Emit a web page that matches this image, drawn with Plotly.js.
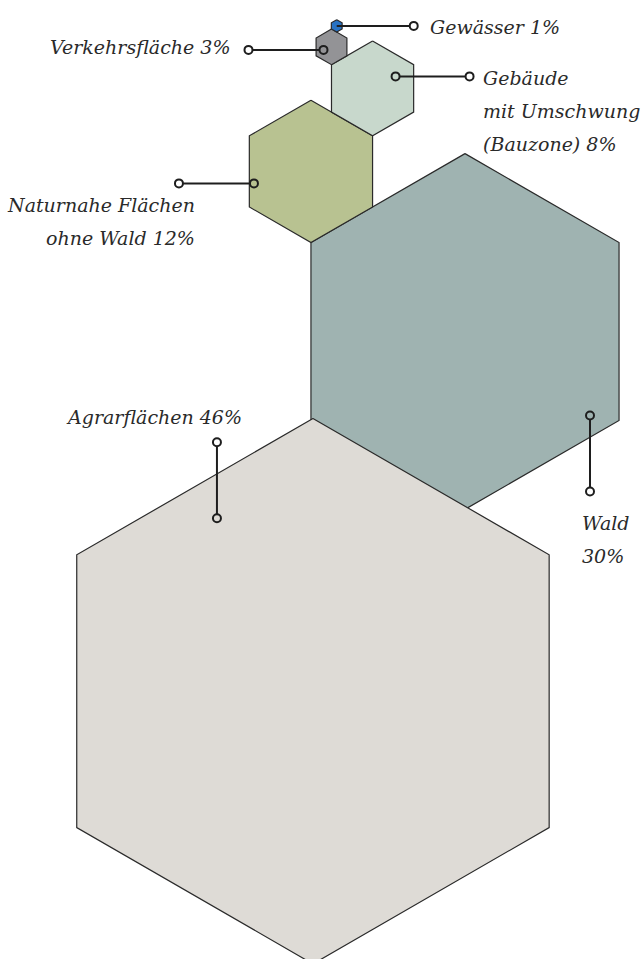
<!DOCTYPE html>
<html>
<head>
<meta charset="utf-8">
<script src="https://cdn.plot.ly/plotly-3.0.1.min.js"></script>
<style>html,body{margin:0;padding:0;background:#fff;}#chart{width:643px;height:959px;}</style>
</head>
<body>
<div id="chart"></div>
<script>
// ---- data ----
const categories = ['Agrarflächen', 'Wald', 'Naturnahe Flächen ohne Wald', 'Gebäude mit Umschwung (Bauzone)', 'Verkehrsfläche', 'Gewässer'];
const percentages = [46, 30, 12, 8, 3, 1];
const labelLines = [
  ['Agrarflächen 46%'],
  ['Wald', '30%'],
  ['Naturnahe Flächen', 'ohne Wald 12%'],
  ['Gebäude', 'mit Umschwung', '(Bauzone) 8%'],
  ['Verkehrsfläche 3%'],
  ['Gewässer 1%']
];
const colors = ['#dedbd6', '#9fb3b1', '#b8c291', '#c8d8cc', '#939396', '#2872c2'];

// ---- layout geometry ----
const W = 643, H = 959;
const pxPerPct = 10.27;               // hexagon width per percent
const S3 = Math.sqrt(3);
const R = percentages.map(p => p * pxPerPct / S3);

function verts(c, r) {
  // pointy-top hexagon, y downward: top, upper-right, lower-right, bottom, lower-left, upper-left
  const a = [-90, -30, 30, 90, 150, 210];
  return a.map(d => [c[0] + r * Math.cos(d * Math.PI / 180), c[1] + r * Math.sin(d * Math.PI / 180)]);
}
const centers = new Array(6);
centers[1] = [465, 331.5]; // Wald anchor
let v = verts(centers[1], R[1]);
centers[0] = [v[4][0] + 2, v[4][1] + R[0] - 2];           // Agrar: top vertex at Wald lower-left
centers[2] = [v[5][0], v[5][1] - R[2]];                   // Naturnah: bottom at Wald upper-left
let vn = verts(centers[2], R[2]);
centers[3] = [vn[1][0], vn[1][1] - R[3]];                 // Gebäude: bottom at Naturnah upper-right
let vg = verts(centers[3], R[3]);
centers[4] = [vg[5][0], vg[5][1] - R[4]];                 // Verkehr: bottom at Gebäude upper-left
let vv = verts(centers[4], R[4]);
const t = 0.34;
centers[5] = [vv[0][0] + t * (vv[1][0] - vv[0][0]), vv[0][1] + t * (vv[1][1] - vv[0][1]) - R[5] * 1.05];

const drawOrder = [1, 2, 3, 4, 5, 0];
const traces = [];
drawOrder.forEach(i => {
  const r = i === 5 ? R[i] * 1.05 : R[i];
  const vs = verts(centers[i], r);
  vs.push(vs[0]);
  traces.push({
    type: 'scatter', mode: 'lines', fill: 'toself',
    x: vs.map(p => p[0]), y: vs.map(p => p[1]),
    fillcolor: colors[i], line: {color: '#2a2a2a', width: 1.2},
    hoverinfo: 'text', text: categories[i] + ' ' + percentages[i] + '%', showlegend: false
  });
});

// leader lines: offsets from the hexagon centre
const leaders = [
  {i: 0, a: [-96, -249], b: [-96, -173], fills: ['#ffffff', colors[0]], circA: true},
  {i: 1, a: [125, 84], b: [125, 160], fills: [colors[1], '#ffffff'], circA: true},
  {i: 2, a: [-57, 12], b: [-132, 12], fills: [colors[2], '#ffffff'], circA: true},
  {i: 3, a: [23, -12], b: [97, -12], fills: [colors[3], '#ffffff'], circA: true},
  {i: 4, a: [-8, 3], b: [-83, 3], fills: [colors[4], '#ffffff'], circA: true},
  {i: 5, a: [0, 0], b: [77, 0], fills: ['#ffffff'], circA: false}
];
leaders.forEach(L => {
  const c = centers[L.i];
  const A = [c[0] + L.a[0], c[1] + L.a[1]];
  const B = [c[0] + L.b[0], c[1] + L.b[1]];
  traces.push({type: 'scatter', mode: 'lines', x: [A[0], B[0]], y: [A[1], B[1]],
    line: {color: '#1e1e1e', width: 2}, hoverinfo: 'skip', showlegend: false});
  const xs = L.circA ? [A[0], B[0]] : [B[0]];
  const ys = L.circA ? [A[1], B[1]] : [B[1]];
  traces.push({type: 'scatter', mode: 'markers', x: xs, y: ys,
    marker: {symbol: 'circle', size: 8, color: L.fills, line: {color: '#1e1e1e', width: 2}},
    hoverinfo: 'skip', showlegend: false});
});

// labels: anchor point, alignment, line spacing
const labelPos = [
  {x: 244, y: 417, anchor: 'right'},
  {x: 580, y: 523, anchor: 'left'},
  {x: 197, y: 205, anchor: 'right'},
  {x: 481, y: 78, anchor: 'left'},
  {x: 232, y: 47, anchor: 'right'},
  {x: 428, y: 27, anchor: 'left'}
];
const lineGap = 33;
const annotations = [];
labelLines.forEach((lines, i) => {
  lines.forEach((txt, k) => {
    annotations.push({
      x: labelPos[i].x, y: labelPos[i].y + k * lineGap, xref: 'x', yref: 'y',
      text: txt, showarrow: false, xanchor: labelPos[i].anchor, yanchor: 'middle',
      font: {family: 'DejaVu Serif, serif', size: 19, color: '#2a2a2a', style: 'italic'}
    });
  });
});

const layout = {
  width: W, height: H,
  margin: {l: 0, r: 0, t: 0, b: 0},
  paper_bgcolor: '#ffffff', plot_bgcolor: '#ffffff',
  xaxis: {range: [0, W], visible: false, fixedrange: true},
  yaxis: {range: [H, 0], visible: false, fixedrange: true},
  annotations: annotations,
  showlegend: false
};
Plotly.newPlot('chart', traces, layout, {displayModeBar: false, staticPlot: true});
</script>
</body>
</html>
